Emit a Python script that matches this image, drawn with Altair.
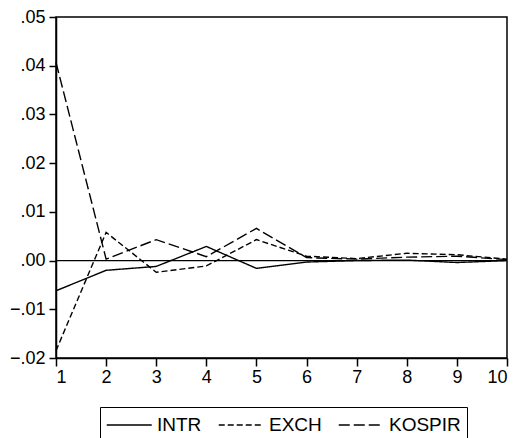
import altair as alt
import pandas as pd

# Impulse responses over 10 periods
periods = [1, 2, 3, 4, 5, 6, 7, 8, 9, 10]
intr = [-0.0062, -0.0020, -0.0012, 0.0029, -0.0016, -0.0003, 0.0000, 0.0001, -0.0004, 0.0000]
exch = [-0.0185, 0.0058, -0.0024, -0.0011, 0.0043, 0.0009, 0.0004, 0.0015, 0.0012, 0.0003]
kospir = [0.0407, 0.0003, 0.0043, 0.0008, 0.0066, 0.0006, 0.0003, 0.0007, 0.0009, 0.0002]

series_names = ["INTR", "EXCH", "KOSPIR"]
dash_styles = [[1, 0], [6, 3], [11, 4]]
y_ticks = [-0.02, -0.01, 0.0, 0.01, 0.02, 0.03, 0.04, 0.05]

rows = []
for name, vals in zip(series_names, [intr, exch, kospir]):
    for p, v in zip(periods, vals):
        rows.append({"period": p, "value": v, "series": name})
df = pd.DataFrame(rows)

FONT = "Liberation Sans"

x_scale = alt.Scale(domain=[1, 10], nice=False, zero=False)
y_scale = alt.Scale(domain=[-0.02, 0.05], nice=False, zero=False)

# legend key: a horizontal stroke four symbol-radii long, starting at the entry's left edge
KEY_PATH = "M-1,0H3"
KEY_SIZE = 506  # sqrt -> 22.5px nominal width, drawn line is 45px

lines = alt.Chart(df).mark_line(color="black", strokeWidth=1.4).encode(
    x=alt.X("period:Q", scale=x_scale,
            axis=alt.Axis(values=periods, format="d", title=None, grid=False,
                          tickSize=8, labelPadding=2, labelFontSize=18,
                          labelFont=FONT, labelColor="black",
                          domainColor="black", domainWidth=1.5,
                          tickColor="black", tickWidth=1.5)),
    y=alt.Y("value:Q", scale=y_scale,
            axis=alt.Axis(values=y_ticks, title=None, grid=False,
                          labelExpr="replace(format(datum.value, '.2f'), '0.', '.')",
                          tickSize=7, labelPadding=4, labelFontSize=18,
                          labelFont=FONT, labelColor="black",
                          domainColor="black", domainWidth=1.5,
                          tickColor="black", tickWidth=1.5)),
    strokeDash=alt.StrokeDash(
        "series:N",
        sort=series_names,
        scale=alt.Scale(domain=series_names, range=dash_styles),
        legend=alt.Legend(
            title=None, orient="none", direction="horizontal",
            legendX=44, legendY=390,
            symbolType=KEY_PATH, symbolSize=KEY_SIZE, symbolStrokeWidth=1.4,
            symbolStrokeColor="black", symbolFillColor="transparent",
            labelFontSize=19, labelFont=FONT, labelColor="black",
            labelOffset=27, columnPadding=13,
            strokeColor="black", padding=6,
        ),
    ),
    detail="series:N",
)

zero_line = alt.Chart(pd.DataFrame({"y": [0.0]})).mark_rule(
    color="black", strokeWidth=1.3
).encode(y=alt.Y("y:Q", scale=y_scale))

chart = alt.layer(zero_line, lines).properties(
    width=451,
    height=341,
    autosize=alt.AutoSizeParams(type="none"),
    padding={"left": 56, "top": 17, "right": 9, "bottom": 80},
    background="white",
).configure_view(stroke="black", strokeWidth=1.5)

chart.save("out.html", embed_options={"renderer": "svg", "actions": False})
